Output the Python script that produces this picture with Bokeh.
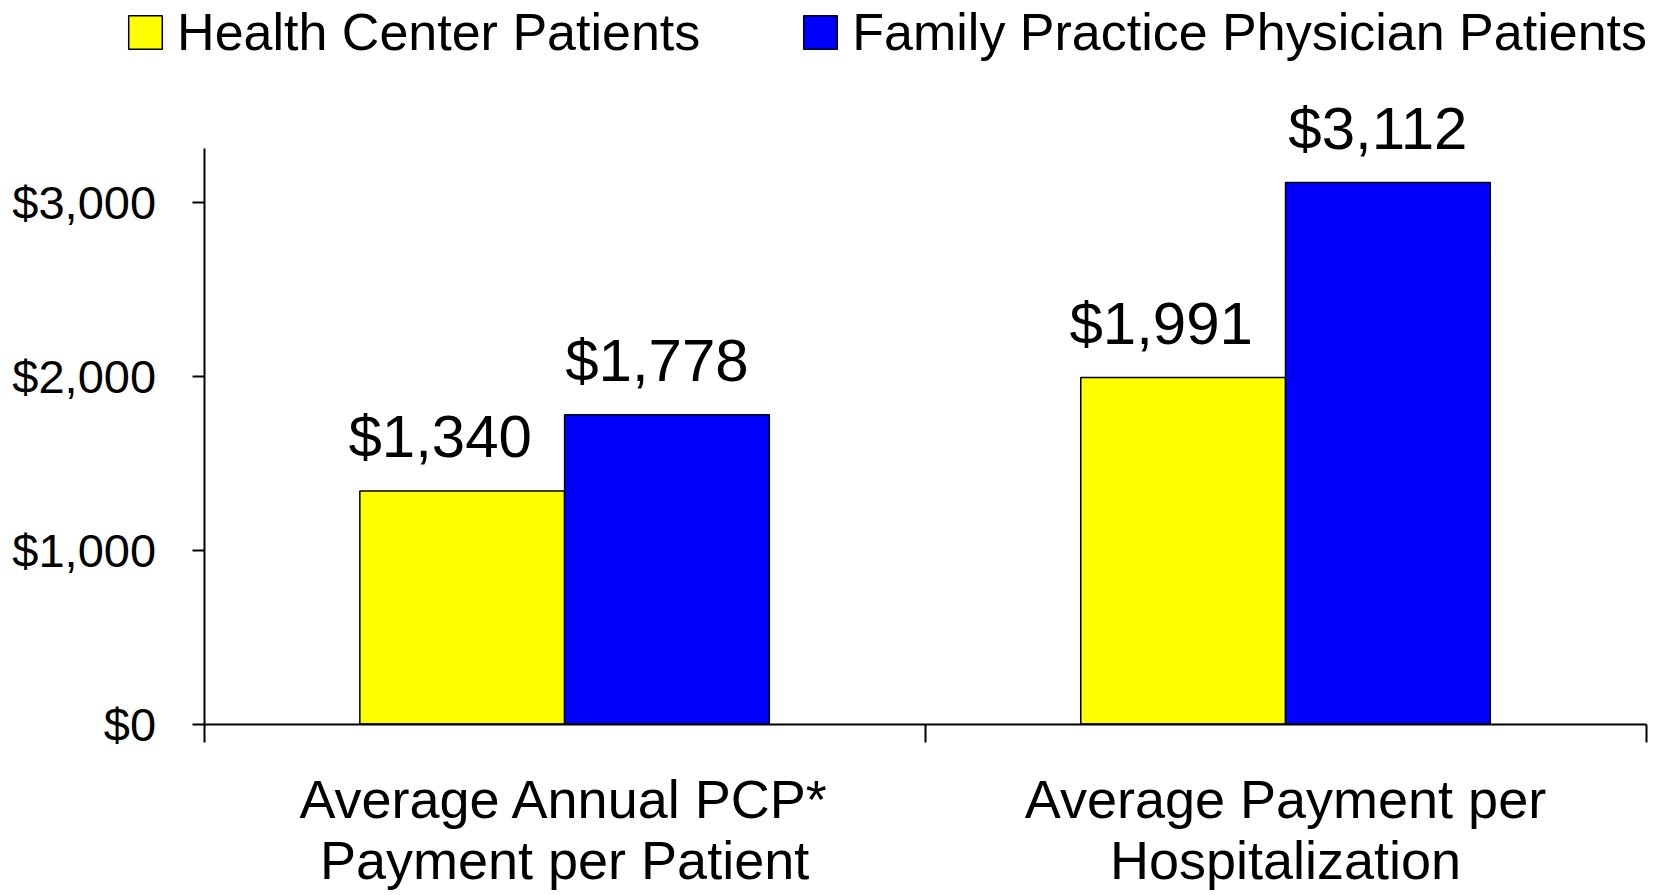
from bokeh.plotting import figure
from bokeh.models import Range1d, FixedTicker, NumeralTickFormatter, ColumnDataSource, LabelSet
from bokeh.core.properties import value
from bokeh.transform import dodge
from bokeh.embed import file_html
from bokeh.resources import INLINE

# ---- data ----
categories = ["Average Annual PCP*\nPayment per Patient", "Average Payment per\nHospitalization"]
series = ["Health Center Patients", "Family Practice Physician Patients"]
health_center = [1340, 1991]
family_practice = [1778, 3112]
y_ticks = [0, 1000, 2000, 3000]
y_axis_top = 3310
colors = ["#FFFF00", "#0000FF"]

FONT = "Liberation Sans"
BAR_W = 0.284

# ---- canvas geometry (pixels) ----
W, H = 1654, 895
AX_LEFT, AX_RIGHT = 203.6, 1645.5   # where the value axis / last category boundary sit
Y0 = 723.6                          # pixel row of value 0
PX_PER_UNIT = 0.17403               # pixels per dollar

n = len(categories)
x_scale = (AX_RIGHT - AX_LEFT) / n
x_start = -AX_LEFT / x_scale
x_end = (W - AX_LEFT) / x_scale
y_end = Y0 / PX_PER_UNIT
y_start = -(H - Y0) / PX_PER_UNIT

xs = [i + 0.5 for i in range(n)]
src = ColumnDataSource(dict(
    x=xs,
    hc=health_center,
    fp=family_practice,
    hc_lbl=[f"${v:,}" for v in health_center],
    fp_lbl=[f"${v:,}" for v in family_practice],
))

p = figure(width=W, height=H,
           x_range=Range1d(x_start, x_end), y_range=Range1d(y_start, y_end),
           output_backend="svg", toolbar_location=None,
           min_border_left=0, min_border_right=0,
           min_border_top=0, min_border_bottom=0)

p.outline_line_color = None
p.xgrid.visible = False
p.ygrid.visible = False
p.background_fill_color = "white"
p.border_fill_color = "white"

r1 = p.vbar(x=dodge("x", -BAR_W / 2, range=p.x_range), top="hc", width=BAR_W, source=src,
            fill_color=colors[0], line_color="black", line_width=1.5, legend_label=series[0])
r2 = p.vbar(x=dodge("x", BAR_W / 2, range=p.x_range), top="fp", width=BAR_W, source=src,
            fill_color=colors[1], line_color="black", line_width=1.5, legend_label=series[1])

for col, lbl, dx, xo in (("hc", "hc_lbl", -BAR_W / 2, -22), ("fp", "fp_lbl", BAR_W / 2, -10)):
    ls = LabelSet(x=dodge("x", dx, range=p.x_range), y=col, text=lbl, source=src,
                  x_offset=xo, y_offset=34, text_align="center", text_baseline="alphabetic",
                  text_font=value(FONT), text_font_size=value("60px"), text_color="black")
    p.add_layout(ls)

# y axis (fixed at x = 0)
ya = p.yaxis[0]
ya.fixed_location = 0
ya.bounds = (0, y_axis_top)
ya.ticker = FixedTicker(ticks=y_ticks)
ya.formatter = NumeralTickFormatter(format="$0,0")
ya.axis_line_width = 2
ya.axis_line_color = "black"
ya.major_tick_line_width = 2
ya.major_tick_line_color = "black"
ya.major_tick_out = 12
ya.major_tick_in = 0
ya.minor_tick_line_color = None
ya.major_label_text_font = FONT
ya.major_label_text_font_size = "47px"
ya.major_label_text_color = "black"
ya.major_label_standoff = 36

# x axis (fixed at y = 0), ticks on category boundaries
xa = p.xaxis[0]
xa.fixed_location = 0
xa.bounds = (0, n)
xa.ticker = FixedTicker(ticks=xs, minor_ticks=list(range(n + 1)))
xa.major_label_overrides = {x: c for x, c in zip(xs, categories)}
xa.axis_line_width = 2
xa.axis_line_color = "black"
xa.major_tick_line_color = None
xa.major_tick_out = 0
xa.major_tick_in = 0
xa.minor_tick_line_color = "black"
xa.minor_tick_line_width = 2
xa.minor_tick_out = 18
xa.minor_tick_in = 0
xa.major_label_text_font = FONT
xa.major_label_text_font_size = "54px"
xa.major_label_text_color = "black"
xa.major_label_text_line_height = 1.02
xa.major_label_standoff = 27

# legend
lg = p.legend[0]
lg.location = (124.1, H - 61.5)
lg.orientation = "horizontal"
lg.label_text_font = FONT
lg.label_text_font_size = "52px"
lg.label_text_color = "black"
lg.glyph_width = 42
lg.glyph_height = 42
lg.label_standoff = 11
lg.spacing = 99
lg.padding = 0
lg.margin = 0
lg.border_line_color = None
lg.background_fill_alpha = 0

open("out.html", "w").write(file_html(p, INLINE))
